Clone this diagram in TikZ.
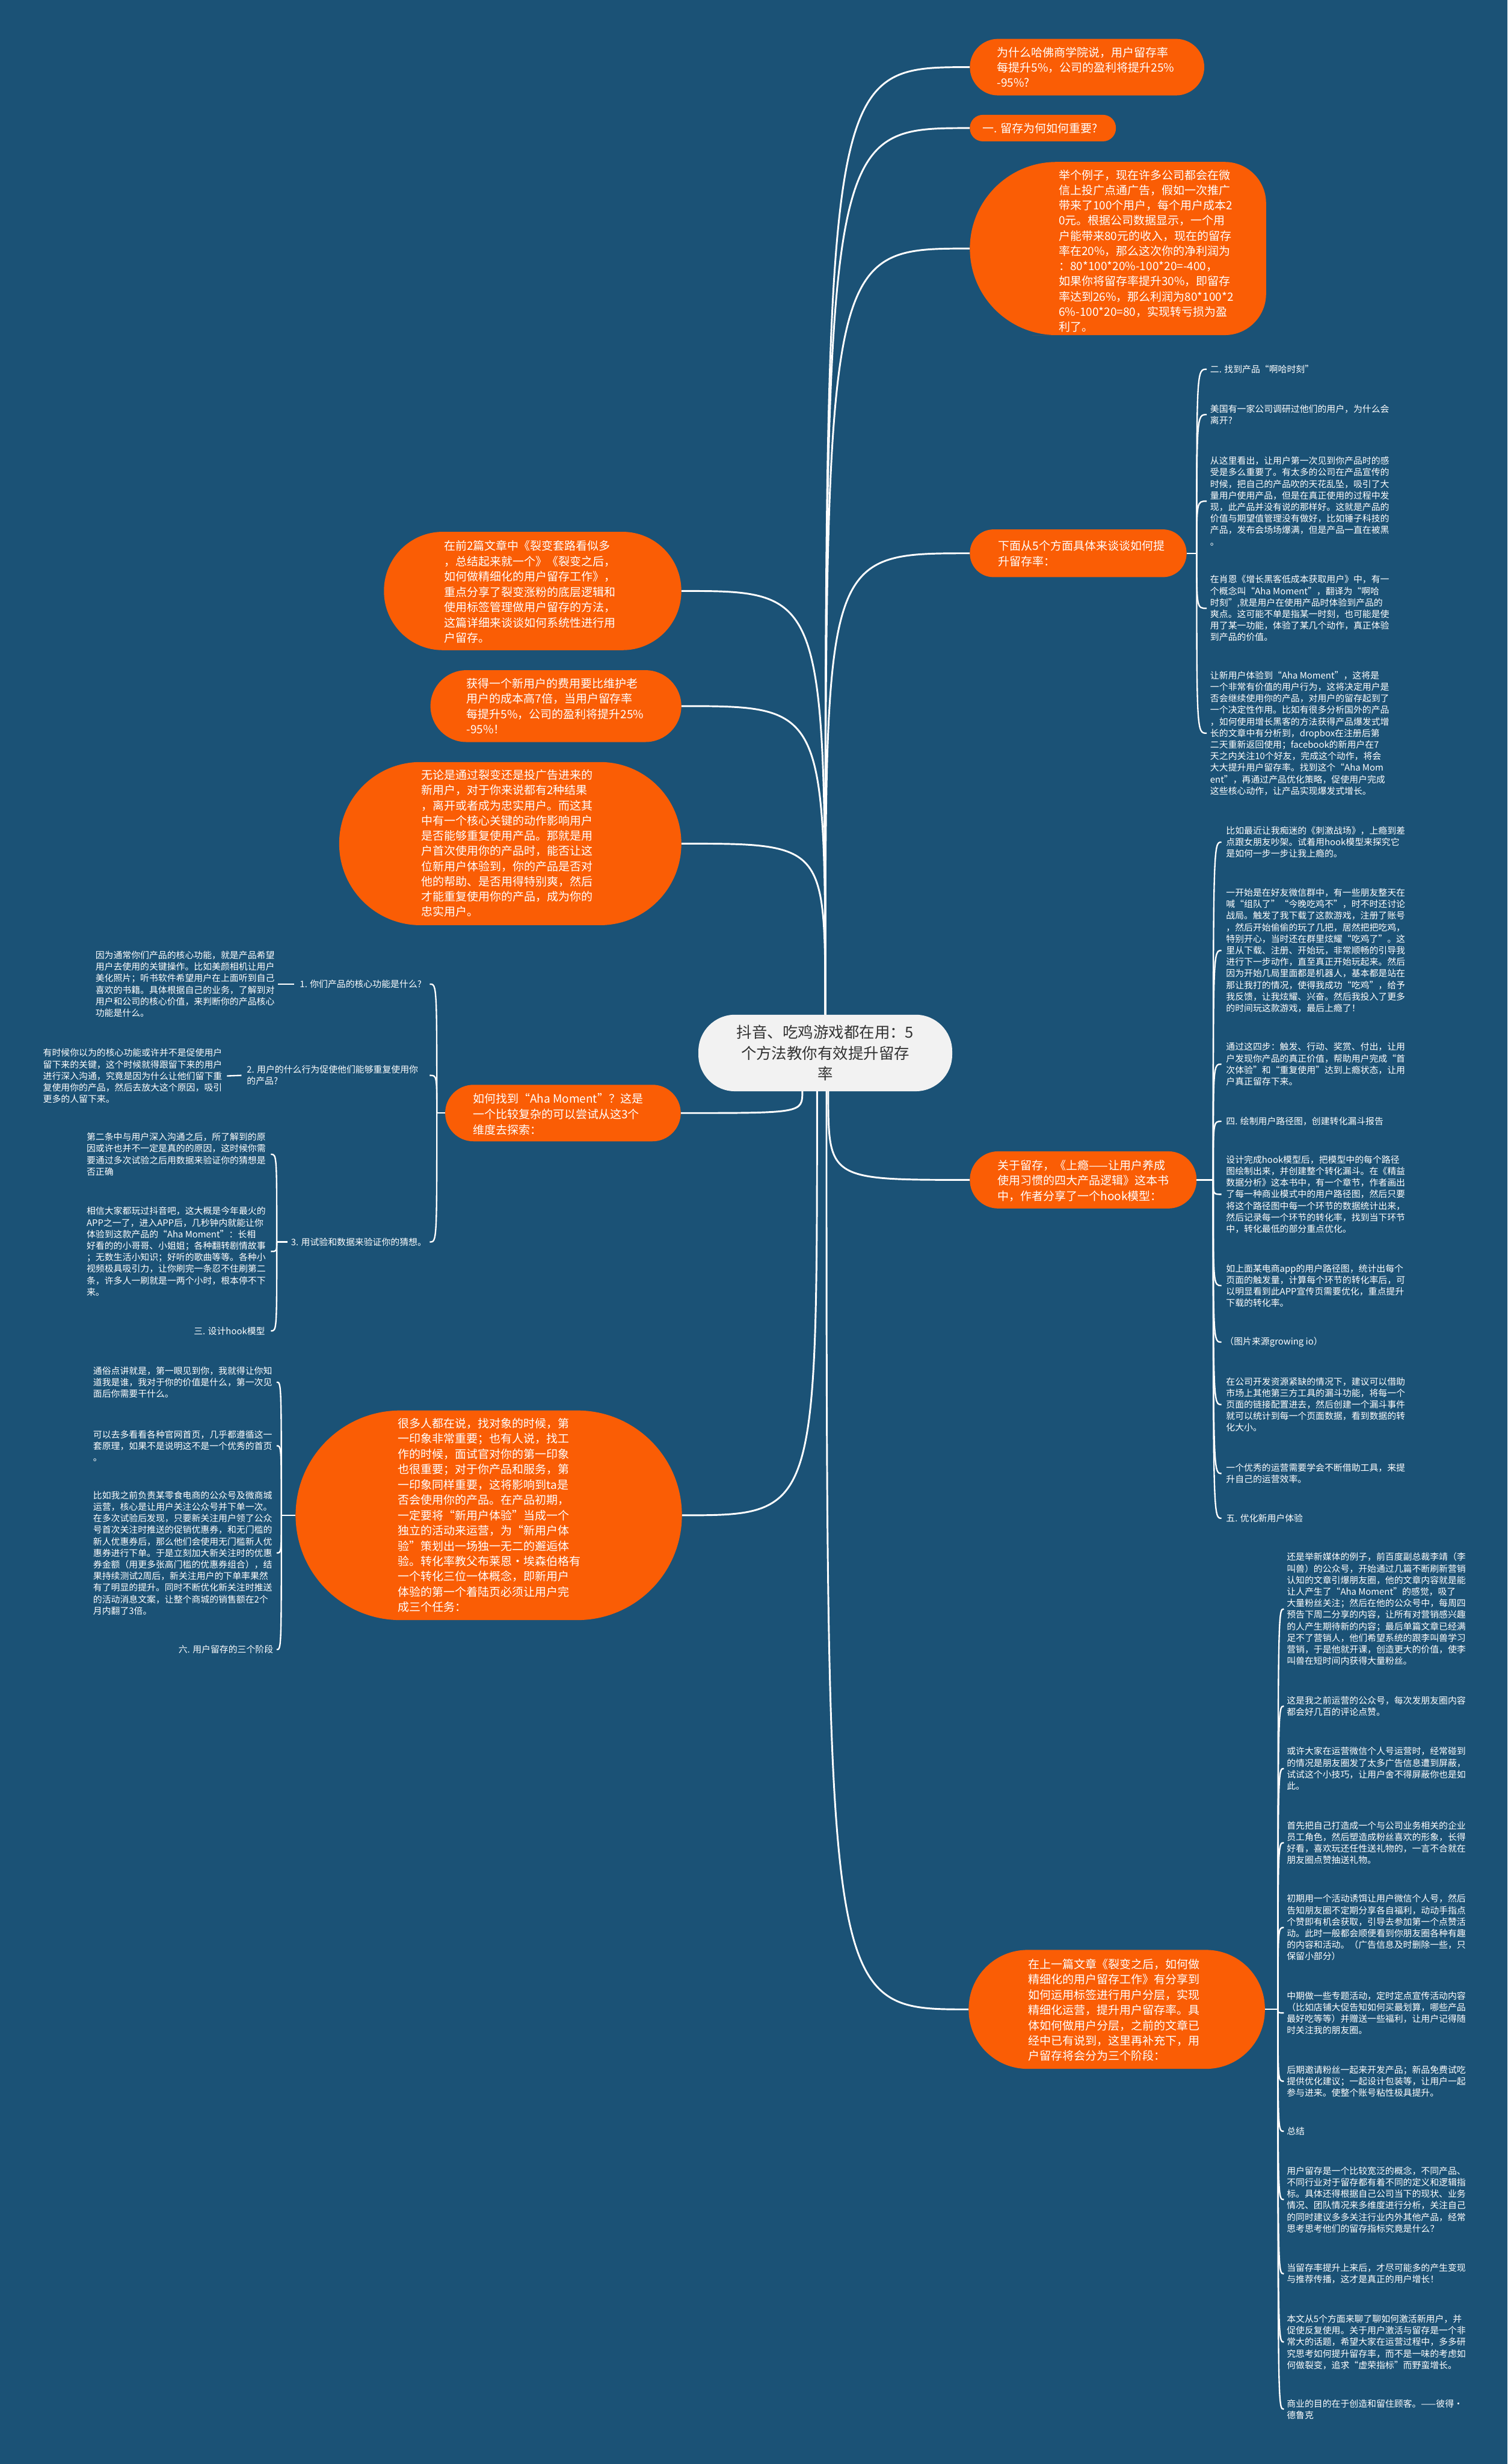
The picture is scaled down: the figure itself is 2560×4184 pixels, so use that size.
\documentclass[tikz,border=0pt]{standalone}
\usepackage{fontspec}
\setmainfont{Noto Sans CJK SC}
\usetikzlibrary{fit}
\definecolor{bgC}{HTML}{1B5276}
\definecolor{orgC}{HTML}{FA5D05}
\definecolor{ctrC}{HTML}{F2F2F2}
\definecolor{ctrT}{HTML}{333333}
\begin{document}
\begin{tikzpicture}[x=1pt,y=-1pt,
  obox/.style={fill=orgC, inner sep=0pt},
  otext/.style={text=white, align=left, inner sep=0pt, anchor=west, font=\fontsize{19.4}{26}\selectfont},
  ctext/.style={text=white, align=left, inner sep=0pt, anchor=west, font=\fontsize{15.2}{19.6}\selectfont},
  link/.style={draw=white, line width=3pt},
  blink/.style={draw=white, line width=2.4pt}]
\fill[bgC] (0,0) rectangle (2560,4184);
\useasboundingbox (0,0) rectangle (2560,4184);

% ---------- center ----------
\node[fill=ctrC, rounded corners=62pt, minimum width=431pt, minimum height=130pt, inner sep=0pt,
  align=center, text=ctrT, font=\fontsize{26}{35}\selectfont] (ctr) at (1401.5,1788)
  {抖音、吃鸡游戏都在用：5\\个方法教你有效提升留存\\率};

% ---------- right orange nodes ----------
\node[obox, rounded corners=48pt, fit={(1647,66)(2045,162)}] (r1) {};
\node[otext] (r1t) at (1693,114) {为什么哈佛商学院说，用户留存率\\每提升5\%，公司的盈利将提升25\%\\-95\%?};

\node[obox, rounded corners=22pt, fit={(1647,195)(1895,240)}] (r2) {};
\node[otext] (r2t) at (1668,218) {一. 留存为何如何重要?};

\fill[orgC] (1900,275) [rounded corners=147pt] -- (1647,275) -- (1647,569) -- (1900,569)
  [rounded corners=70pt] -- (2150,569) -- (2150,275) -- cycle;
\node[inner sep=0pt, fit={(1647,275)(2150,569)}] (r3) {};
\node[otext, font=\fontsize{19.4}{25.8}\selectfont] (r3t) at (1798,426) {举个例子，现在许多公司都会在微\\信上投广点通广告，假如一次推广\\带来了100个用户，每个用户成本2\\0元。根据公司数据显示，一个用\\户能带来80元的收入，现在的留存\\率在20\%，那么这次你的净利润为\\：80*100*20\%-100*20=-400，\\如果你将留存率提升30\%，即留存\\率达到26\%，那么利润为80*100*2\\6\%-100*20=80，实现转亏损为盈\\利了。};

\node[obox, rounded corners=40pt, fit={(1647,899)(2015,980)}] (r4) {};
\node[otext] (r4t) at (1695,940) {下面从5个方面具体来谈谈如何提\\升留存率：};

\node[obox, rounded corners=48pt, fit={(1647,1955)(2032,2052)}] (r5) {};
\node[otext] (r5t) at (1694,2005) {关于留存，《上瘾——让用户养成\\使用习惯的四大产品逻辑》这本书\\中，作者分享了一个hook模型：};

\node[obox, rounded corners=100pt, fit={(1645,3311)(2148,3513)}] (r6) {};
\node[otext] (r6t) at (1746,3413) {在上一篇文章《裂变之后，如何做\\精细化的用户留存工作》有分享到\\如何运用标签进行用户分层，实现\\精细化运营，提升用户留存率。具\\体如何做用户分层，之前的文章已\\经中已有说到，这里再补充下，用\\户留存将会分为三个阶段：};

% ---------- left orange nodes ----------
\node[obox, rounded corners=100pt, fit={(652,903)(1157,1104)}] (l1) {};
\node[otext] (l1t) at (754,1005) {在前2篇文章中《裂变套路看似多\\，总结起来就一个》《裂变之后，\\如何做精细化的用户留存工作》，\\重点分享了裂变涨粉的底层逻辑和\\使用标签管理做用户留存的方法，\\这篇详细来谈谈如何系统性进行用\\户留存。};

\node[obox, rounded corners=61pt, fit={(731,1138)(1157,1260)}] (l2) {};
\node[otext] (l2t) at (792,1199) {获得一个新用户的费用要比维护老\\用户的成本高7倍，当用户留存率\\每提升5\%，公司的盈利将提升25\%\\-95\%！};

\node[obox, rounded corners=138pt, fit={(576,1294)(1157,1571)}] (l3) {};
\node[otext, font=\fontsize{19.4}{25.8}\selectfont] (l3t) at (715,1432) {无论是通过裂变还是投广告进来的\\新用户，对于你来说都有2种结果\\，离开或者成为忠实用户。而这其\\中有一个核心关键的动作影响用户\\是否能够重复使用产品。那就是用\\户首次使用你的产品时，能否让这\\位新用户体验到，你的产品是否对\\他的帮助、是否用得特别爽，然后\\才能重复使用你的产品，成为你的\\忠实用户。};

\node[obox, rounded corners=48pt, fit={(756,1842)(1156,1938)}] (l4) {};
\node[otext, font=\fontsize{19.4}{27}\selectfont] (l4t) at (803,1892) {如何找到“Aha Moment”？这是\\一个比较复杂的可以尝试从这3个\\维度去探索：};

\node[obox, rounded corners=178pt, fit={(502,2395)(1158,2751)}] (l5) {};
\node[otext] (l5t) at (676,2573) {很多人都在说，找对象的时候，第\\一印象非常重要；也有人说，找工\\作的时候，面试官对你的第一印象\\也很重要；对于你产品和服务，第\\一印象同样重要，这将影响到ta是\\否会使用你的产品。在产品初期，\\一定要将“新用户体验”当成一个\\独立的活动来运营，为“新用户体\\验”策划出一场独一无二的邂逅体\\验。转化率教父布莱恩·埃森伯格有\\一个转化三位一体概念，即新用户\\体验的第一个着陆页必须让用户完\\成三个任务：};

% ---------- right column texts (children of r4) ----------
\node[ctext] (a1) at (2055,627) {二. 找到产品“啊哈时刻”};
\node[ctext] (a2) at (2055,704) {美国有一家公司调研过他们的用户，为什么会\\离开?};
\node[ctext] (a3) at (2055,851) {从这里看出，让用户第一次见到你产品时的感\\受是多么重要了。有太多的公司在产品宣传的\\时候，把自己的产品吹的天花乱坠，吸引了大\\量用户使用产品，但是在真正使用的过程中发\\现，此产品并没有说的那样好。这就是产品的\\价值与期望值管理没有做好，比如锤子科技的\\产品，发布会场场爆满，但是产品一直在被黑\\。};
\node[ctext] (a4) at (2055,1033) {在肖恩《增长黑客低成本获取用户》中，有一\\个概念叫“Aha Moment”，翻译为“啊哈\\时刻”,就是用户在使用产品时体验到产品的\\爽点。这可能不单是指某一时刻，也可能是使\\用了某一功能，体验了某几个动作，真正体验\\到产品的价值。};
\node[ctext] (a5) at (2055,1245) {让新用户体验到“Aha Moment”，这将是\\一个非常有价值的用户行为，这将决定用户是\\否会继续使用你的产品，对用户的留存起到了\\一个决定性作用。比如有很多分析国外的产品\\，如何使用增长黑客的方法获得产品爆发式增\\长的文章中有分析到，dropbox在注册后第\\二天重新返回使用；facebook的新用户在7\\天之内关注10个好友，完成这个动作，将会\\大大提升用户留存率。找到这个“Aha Mom\\ent”，再通过产品优化策略，促使用户完成\\这些核心动作，让产品实现爆发式增长。};

% ---------- children of r5 ----------
\node[ctext] (b1) at (2082,1430) {比如最近让我痴迷的《刺激战场》，上瘾到差\\点跟女朋友吵架。试着用hook模型来探究它\\是如何一步一步让我上瘾的。};
\node[ctext] (b2) at (2082,1614) {一开始是在好友微信群中，有一些朋友整天在\\喊“组队了”“今晚吃鸡不”，时不时还讨论\\战局。触发了我下载了这款游戏，注册了账号\\，然后开始偷偷的玩了几把，居然把把吃鸡，\\特别开心，当时还在群里炫耀“吃鸡了”。这\\里从下载、注册、开始玩，非常顺畅的引导我\\进行下一步动作，直至真正开始玩起来。然后\\因为开始几局里面都是机器人，基本都是站在\\那让我打的情况，使得我成功“吃鸡”，给予\\我反馈，让我炫耀、兴奋。然后我投入了更多\\的时间玩这款游戏，最后上瘾了！};
\node[ctext] (b3) at (2082,1807) {通过这四步：触发、行动、奖赏、付出，让用\\户发现你产品的真正价值，帮助用户完成“首\\次体验”和“重复使用”达到上瘾状态，让用\\户真正留存下来。};
\node[ctext] (b4) at (2082,1904) {四. 绘制用户路径图，创建转化漏斗报告};
\node[ctext] (b5) at (2082,2028) {设计完成hook模型后，把模型中的每个路径\\图绘制出来，并创建整个转化漏斗。在《精益\\数据分析》这本书中，有一个章节，作者画出\\了每一种商业模式中的用户路径图，然后只要\\将这个路径图中每一个环节的数据统计出来，\\然后记录每一个环节的转化率，找到当下环节\\中，转化最低的部分重点优化。};
\node[ctext] (b6) at (2082,2183) {如上面某电商app的用户路径图，统计出每个\\页面的触发量，计算每个环节的转化率后，可\\以明显看到此APP宣传页需要优化，重点提升\\下载的转化率。};
\node[ctext] (b7) at (2080,2279) {（图片来源growing io）};
\node[ctext] (b8) at (2082,2385) {在公司开发资源紧缺的情况下，建议可以借助\\市场上其他第三方工具的漏斗功能，将每一个\\页面的链接配置进去，然后创建一个漏斗事件\\就可以统计到每一个页面数据，看到数据的转\\化大小。};
\node[ctext] (b9) at (2082,2502) {一个优秀的运营需要学会不断借助工具，来提\\升自己的运营效率。};
\node[ctext] (b10) at (2082,2578) {五. 优化新用户体验};

% ---------- children of r6 ----------
\node[ctext] (c1) at (2185,2732) {还是举新媒体的例子，前百度副总裁李靖（李\\叫兽）的公众号，开始通过几篇不断刷新营销\\认知的文章引爆朋友圈，他的文章内容就是能\\让人产生了“Aha Moment”的感觉，吸了\\大量粉丝关注；然后在他的公众号中，每周四\\预告下周二分享的内容，让所有对营销感兴趣\\的人产生期待新的内容；最后单篇文章已经满\\足不了营销人，他们希望系统的跟李叫兽学习\\营销，于是他就开课，创造更大的价值，使李\\叫兽在短时间内获得大量粉丝。};
\node[ctext] (c2) at (2185,2897) {这是我之前运营的公众号，每次发朋友圈内容\\都会好几百的评论点赞。};
\node[ctext] (c3) at (2185,3003) {或许大家在运营微信个人号运营时，经常碰到\\的情况是朋友圈发了太多广告信息遭到屏蔽，\\试试这个小技巧，让用户舍不得屏蔽你也是如\\此。};
\node[ctext] (c4) at (2185,3129) {首先把自己打造成一个与公司业务相关的企业\\员工角色，然后塑造成粉丝喜欢的形象，长得\\好看，喜欢玩还任性送礼物的，一言不合就在\\朋友圈点赞抽送礼物。};
\node[ctext] (c5) at (2185,3273) {初期用一个活动诱饵让用户微信个人号，然后\\告知朋友圈不定期分享各自福利，动动手指点\\个赞即有机会获取，引导去参加第一个点赞活\\动。此时一般都会顺便看到你朋友圈各种有趣\\的内容和活动。（广告信息及时删除一些，只\\保留小部分）};
\node[ctext] (c6) at (2185,3418) {中期做一些专题活动，定时定点宣传活动内容\\（比如店铺大促告知如何买最划算，哪些产品\\最好吃等等）并赠送一些福利，让用户记得随\\时关注我的朋友圈。};
\node[ctext] (c7) at (2185,3534) {后期邀请粉丝一起来开发产品；新品免费试吃\\提供优化建议；一起设计包装等，让用户一起\\参与进来。使整个账号粘性极具提升。};
\node[ctext] (c8) at (2185,3619) {总结};
\node[ctext] (c9) at (2185,3735) {用户留存是一个比较宽泛的概念，不同产品、\\不同行业对于留存都有着不同的定义和逻辑指\\标。具体还得根据自己公司当下的现状、业务\\情况、团队情况来多维度进行分析，关注自己\\的同时建议多多关注行业内外其他产品，经常\\思考思考他们的留存指标究竟是什么？};
\node[ctext] (c10) at (2185,3861) {当留存率提升上来后，才尽可能多的产生变现\\与推荐传播，这才是真正的用户增长！};
\node[ctext] (c11) at (2185,3977) {本文从5个方面来聊了聊如何激活新用户，并\\促使反复使用。关于用户激活与留存是一个非\\常大的话题，希望大家在运营过程中，多多研\\究思考如何提升留存率，而不是一味的考虑如\\何做裂变，追求“虚荣指标”而野蛮增长。};
\node[ctext] (c12) at (2185,4091) {商业的目的在于创造和留住顾客。——彼得·\\德鲁克};

% ---------- left column texts ----------
\node[ctext] (d1) at (509,1671) {1. 你们产品的核心功能是什么?};
\node[ctext] (g1) at (162,1671) {因为通常你们产品的核心功能，就是产品希望\\用户去使用的关键操作。比如美颜相机让用户\\美化照片；听书软件希望用户在上面听到自己\\喜欢的书籍。具体根据自己的业务，了解到对\\用户和公司的核心价值，来判断你的产品核心\\功能是什么。};
\node[ctext] (d2) at (419,1826) {2. 用户的什么行为促使他们能够重复使用你\\的产品?};
\node[ctext] (g2) at (73,1827) {有时候你以为的核心功能或许并不是促使用户\\留下来的关键，这个时候就得跟留下来的用户\\进行深入沟通，究竟是因为什么让他们留下重\\复使用你的产品，然后去放大这个原因，吸引\\更多的人留下来。};
\node[ctext] (d3) at (494,2109) {3. 用试验和数据来验证你的猜想。};
\node[ctext] (e1) at (147,1960) {第二条中与用户深入沟通之后，所了解到的原\\因或许也并不一定是真的的原因，这时候你需\\要通过多次试验之后用数据来验证你的猜想是\\否正确};
\node[ctext] (e2) at (147,2125) {相信大家都玩过抖音吧，这大概是今年最火的\\APP之一了，进入APP后，几秒钟内就能让你\\体验到这款产品的“Aha Moment”：长相\\好看的的小哥哥、小姐姐；各种翻转剧情故事\\；无数生活小知识；好听的歌曲等等。各种小\\视频极具吸引力，让你刷完一条忍不住刷第二\\条，许多人一刷就是一两个小时，根本停不下\\来。};
\node[ctext] (e3) at (329,2260) {三. 设计hook模型};
\node[ctext] (f1) at (158,2347) {通俗点讲就是，第一眼见到你，我就得让你知\\道我是谁，我对于你的价值是什么，第一次见\\面后你需要干什么。};
\node[ctext] (f2) at (158,2455) {可以去多看看各种官网首页，几乎都遵循这一\\套原理，如果不是说明这不是一个优秀的首页\\。};
\node[ctext] (f3) at (158,2637) {比如我之前负责某零食电商的公众号及微商城\\运营，核心是让用户关注公众号并下单一次。\\在多次试验后发现，只要新关注用户领了公众\\号首次关注时推送的促销优惠券，和无门槛的\\新人优惠券后，那么他们会使用无门槛新人优\\惠券进行下单。于是立刻加大新关注时的优惠\\券金额（用更多张高门槛的优惠券组合），结\\果持续测试2周后，新关注用户的下单率果然\\有了明显的提升。同时不断优化新关注时推送\\的活动消息文案，让整个商城的销售额在2个\\月内翻了3倍。};
\node[ctext] (f4) at (303,2801) {六. 用户留存的三个阶段};

% ---------- main connectors ----------
\foreach \n in {r1,r2,r3,r4}
  \draw[link] (ctr.north) .. controls (ctr.north |- \n.west) .. (\n.west);
\foreach \n in {l1,l2,l3}
  \draw[link] (ctr.north) .. controls (ctr.north |- \n.east) .. (\n.east);
\coordinate (cs1) at ([xshift=-39pt]ctr.south);
\coordinate (cs2) at ([xshift=-14pt]ctr.south);
\coordinate (cs3) at ([xshift=2pt]ctr.south);
\coordinate (cs4) at ([xshift=5pt]ctr.south);
\draw[link] (cs1) .. controls (cs1 |- l4.east) .. (l4.east);
\draw[link] (cs2) .. controls (cs2 |- l5.east) .. (l5.east);
\draw[link] (cs3) .. controls (cs3 |- r6.west) .. (r6.west);
\draw[link] (cs4) .. controls (cs4 |- r5.west) .. (r5.west);

% ---------- brackets ----------
\coordinate (j4) at ([xshift=17pt]r4.east);
\coordinate (j4e) at ([xshift=17pt]j4);
\draw[blink] (r4.east) -- (j4);
\foreach \n in {a1,a2,a3,a4,a5}
  \draw[blink] (j4) .. controls (j4 |- \n.west) .. (j4e |- \n.west);

\coordinate (j5) at ([xshift=28pt]r5.east);
\coordinate (j5e) at ([xshift=14pt]j5);
\draw[blink] (r5.east) -- (j5);
\foreach \n in {b1,b2,b3,b4,b5,b6,b7,b8,b9,b10}
  \draw[blink] (j5) .. controls (j5 |- \n.west) .. (j5e |- \n.west);

\coordinate (j6) at ([xshift=22pt]r6.east);
\coordinate (j6e) at ([xshift=10pt]j6);
\draw[blink] (r6.east) -- (j6);
\foreach \n in {c1,c2,c3,c4,c5,c6,c7,c8,c9,c10,c11,c12}
  \draw[blink] (j6) .. controls (j6 |- \n.west) .. (j6e |- \n.west);

\coordinate (j7) at ([xshift=-14pt]l4.west);
\coordinate (j7e) at ([xshift=-12pt]j7);
\draw[blink] (l4.west) -- (j7);
\foreach \n in {d1,d2,d3}
  \draw[blink] (j7) .. controls (j7 |- \n.east) .. (j7e |- \n.east);

\draw[blink] ([xshift=-10pt]d1.west) -- ([xshift=6pt]g1.east);
\draw[blink] ([xshift=-9pt]d2.west) -- ([xshift=8pt]g2.east);

\coordinate (j8) at ([xshift=-24pt]d3.west);
\coordinate (j8e) at ([xshift=-10pt]j8);
\draw[blink] ([xshift=-6pt]d3.west) -- (j8);
\foreach \n in {e1,e2,e3}
  \draw[blink] (j8) .. controls (j8 |- \n.east) .. (j8e |- \n.east);

\coordinate (j9) at ([xshift=-24pt]l5.west);
\coordinate (j9e) at ([xshift=-8pt]j9);
\draw[blink] (l5.west) -- (j9);
\foreach \n in {f1,f2,f3,f4}
  \draw[blink] (j9) .. controls (j9 |- \n.east) .. (j9e |- \n.east);
\end{tikzpicture}
\end{document}
